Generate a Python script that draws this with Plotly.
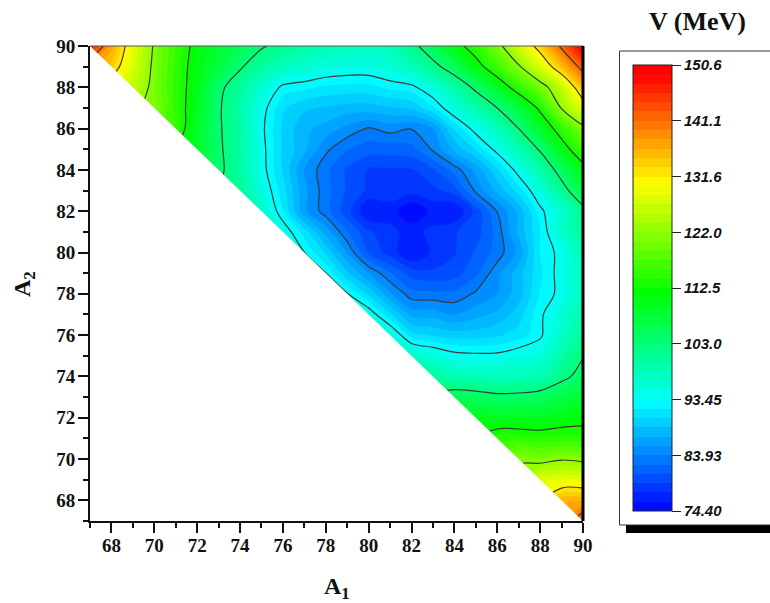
import plotly.graph_objects as go

a1 = list(range(67, 91))
a2 = list(range(67, 91))

# V values per A2 row, listed from the diagonal edge (A1 + A2 = 157) to A1 = 90
row_90 = [148,137,128.5,121.5,115.5,111,108,105.5,103.5,101.5,100,98.5,98,97.5,98.5,101.5,106,110.5,115,120.5,127,133.5,142,150.6]
row_89 = [134,127.5,121,115,110.5,107,103.5,100,98,96.5,95.5,95,95,96,98,101.5,105.5,110.5,116,121.5,127.5,135,143]
row_88 = [126,120.5,115,110,104,100.5,96.5,92.8,92.3,91.5,91.3,91.3,92.3,92.8,95.5,99.5,104,109,115,120,125.5,135.5]
row_87 = [121,115,109.5,103.5,99.5,94.5,90.5,89,88.5,88,88,88.5,89,91.5,95.5,99,103,107,113.5,122.3,129]
row_86 = [115.5,108.5,103.5,100,94,90,87.5,86.5,85,83.7,84.6,84,85.5,90.5,94.5,98,103,108.5,115,120.8]
row_85 = [109,103.7,100,94.3,90,87.5,84.3,82.5,81.5,81.5,81.8,84.2,87.5,90.5,94.3,98.5,103.5,110,116.5]
row_84 = [104,100,94.5,90,85.5,82.8,80.5,79,79,79,80.5,83,86,90,94.5,99,105,110.5]
row_83 = [100.5,95.5,91,86,83,80.5,78.8,78.5,78.3,78.7,80,84.3,87.5,91,95.5,101,107]
row_82 = [97,92,86,83,79.8,75.9,76.8,74.4,76.5,75.9,79.7,84,87.5,92.8,96.5,101.5]
row_81 = [95,91,86.5,82.5,79.5,78,77,78,79,80,83,87.5,91.8,96.7,101]
row_80 = [93.5,90,85.5,80.5,78.5,75.9,77.8,79,81,83,86,92,94.2,99]
row_79 = [93.5,89,85.5,82.5,80,79.5,80,82,85,88,91.5,94.5,98.5]
row_78 = [93.6,90,85.8,83,82.8,82.8,84.2,85.5,88,92,94.2,98]
row_77 = [95,90.6,86.5,86.5,85.5,86.5,87.5,89.5,93,96,99.5]
row_76 = [96,91,90,89.5,89.5,90,91,93,97,100.5]
row_75 = [97.1,95.8,94.3,94,94,95,95.5,99.5,102.8]
row_74 = [100.5,98.5,98,98,98,98.5,101.8,104.5]
row_73 = [105.5,105,104,104.2,105,106.5,108]
row_72 = [110,109.5,109.5,109.5,110.5,111]
row_71 = [115,115,114.5,114.8,114.8]
row_70 = [121.5,120.5,121.7,121]
row_69 = [128,128.5,128.5]
row_68 = [136,136]
row_67 = [145]

rows_bottom_up = [row_67,row_68,row_69,row_70,row_71,row_72,row_73,row_74,row_75,row_76,row_77,row_78,
                  row_79,row_80,row_81,row_82,row_83,row_84,row_85,row_86,row_87,row_88,row_89,row_90]
z = [[None] * (len(a1) - len(r)) + r for r in rows_bottom_up]

scale_vals = [74.4, 83.925, 93.45, 102.975, 112.5, 122.025, 131.55, 141.075, 150.6]
scale_text = ["74.40", "83.93", "93.45", "103.0", "112.5", "122.0", "131.6", "141.1", "150.6"]
rainbow = [[0, "#0000ff"], [0.25, "#00ffff"], [0.5, "#00ff00"], [0.75, "#ffff00"], [1, "#ff0000"]]

empty_x = [67, 90, 67, 67]
empty_y = [90, 67, 67, 90]

SERIF = "Liberation Serif"
W, H = 770, 603
L, R, T, B = 90, 583, 46, 521
px = lambda v: (v - L) / (R - L)
py = lambda v: (B - v) / (B - T)

fig = go.Figure()
fig.add_trace(go.Contour(
    x=a1, y=a2, z=z, zmin=74.4, zmax=150.6, colorscale=rainbow, hoverinfo="skip",
    autocontour=False, line=dict(width=0),
    contours=dict(start=74.4, end=150.6, size=1.5875, coloring="fill", showlines=False),
    colorbar=dict(
        x=px(633), xanchor="left", xpad=0, y=py(65), yanchor="top", ypad=0,
        thickness=39, thicknessmode="pixels", len=446, lenmode="pixels",
        outlinewidth=1, outlinecolor="#222", borderwidth=0,
        tickmode="array", tickvals=scale_vals, ticktext=scale_text, tickprefix="\u00a0",
        ticks="outside", ticklen=9, tickwidth=1, tickcolor="#222",
        tickfont=dict(family="Liberation Sans", size=15, color="#111", weight=700, style="italic"),
    ),
))
fig.add_trace(go.Contour(
    x=a1, y=a2, z=z, showscale=False, hoverinfo="skip", autocontour=False,
    line=dict(color="#3a3a3a", width=1.2),
    contours=dict(start=scale_vals[1], end=scale_vals[7], size=9.525, coloring="none", showlines=True),
))
fig.add_trace(go.Scatter(
    x=empty_x, y=empty_y, mode="lines", fill="toself", fillcolor="white",
    line=dict(width=0, color="white"), showlegend=False, hoverinfo="skip",
))

axis_common = dict(
    range=[67, 90], tick0=68, dtick=2, ticks="outside", ticklen=10, tickwidth=2, tickcolor="#111",
    showline=True, linewidth=2, linecolor="#111", showgrid=False, zeroline=False,
    tickfont=dict(family=SERIF, size=19, color="#111", weight=700),
    minor=dict(tick0=67, dtick=1, ticks="outside", ticklen=5, tickwidth=2, tickcolor="#111", showgrid=False),
)
fig.update_layout(
    width=W, height=H, autosize=False, showlegend=False,
    margin=dict(l=L, r=W - R, t=T, b=H - B, pad=0),
    paper_bgcolor="white", plot_bgcolor="white",
    xaxis=dict(axis_common, ticklabelstandoff=-4),
    yaxis=dict(axis_common, ticklabelstandoff=-1),
    shapes=[
        dict(type="rect", xref="paper", yref="paper", x0=px(626), x1=px(775), y0=py(533), y1=py(525),
             fillcolor="black", line=dict(width=0)),
        dict(type="rect", xref="paper", yref="paper", x0=px(619.5), x1=px(775), y0=py(525), y1=py(51),
             fillcolor="white", line=dict(color="#333", width=1)),
        dict(type="line", xref="paper", yref="paper", x0=0, x1=1, y0=1, y1=1, layer="above",
             line=dict(color="#555", width=1)),
        dict(type="line", xref="paper", yref="paper", x0=1, x1=1, y0=0, y1=1, layer="above",
             line=dict(color="#000", width=3)),
    ],
    annotations=[
        dict(text="<b>V (MeV)</b>", xref="paper", yref="paper", x=px(697), y=py(21), showarrow=False,
             xanchor="center", yanchor="middle", font=dict(family=SERIF, size=26, color="#111")),
        dict(text="<b>A<sub>1</sub></b>", xref="paper", yref="paper", x=px(337), y=py(588), showarrow=False,
             xanchor="center", yanchor="middle", font=dict(family=SERIF, size=24, color="#111")),
        dict(text="<b>A<sub>2</sub></b>", xref="paper", yref="paper", x=px(24), y=py(284), showarrow=False,
             xanchor="center", yanchor="middle", textangle=-90, font=dict(family=SERIF, size=24, color="#111")),
    ],
)
fig.write_html("out.html", config={"displayModeBar": False},
               post_script="document.body.style.margin='0';")
